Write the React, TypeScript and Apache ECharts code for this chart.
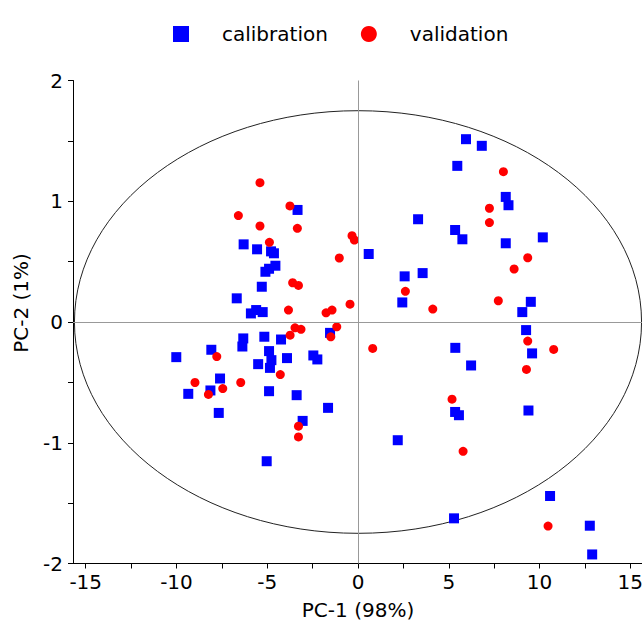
import React, { useEffect, useRef } from "react";
import * as echarts from "echarts";

const calibration: [number, number][] = [
  [-3.33, 0.928], [-6.30, 0.643], [-5.56, 0.602], [-4.79, 0.585], [-4.63, 0.569],
  [-4.55, 0.466], [-4.90, 0.441], [-5.10, 0.416], [-5.30, 0.292], [-6.68, 0.196],
  [-5.61, 0.099], [-5.90, 0.071], [-5.25, 0.082], [-1.54, -0.09], [-6.32, -0.136],
  [-6.37, -0.203], [-5.16, -0.122], [-4.24, -0.145], [-8.08, -0.23], [-4.90, -0.241],
  [-4.77, -0.316], [-5.50, -0.349], [-4.85, -0.38], [-3.91, -0.299], [-2.46, -0.277],
  [-2.24, -0.31], [-7.60, -0.468], [-8.13, -0.567], [-4.90, -0.573], [-3.38, -0.606],
  [-1.65, -0.711], [-7.67, -0.753], [-3.05, -0.819], [-5.03, -1.153], [-10.01, -0.291],
  [-9.35, -0.595], [5.95, 1.514], [6.82, 1.459], [5.47, 1.293], [3.31, 0.851],
  [5.35, 0.762], [5.75, 0.685], [0.59, 0.563], [2.57, 0.378], [3.56, 0.405],
  [2.44, 0.162], [8.14, 1.036], [8.29, 0.967], [8.14, 0.652], [10.18, 0.701],
  [9.52, 0.167], [9.05, 0.082], [5.36, -0.214], [6.23, -0.36], [5.35, -0.745],
  [5.56, -0.772], [2.19, -0.979], [9.26, -0.067], [9.59, -0.26], [9.39, -0.733],
  [10.58, -1.441], [12.77, -1.687], [12.90, -1.925], [5.29, -1.626],
];

const validation: [number, number][] = [
  [-5.40, 1.154], [-3.75, 0.961], [-6.59, 0.881], [-5.40, 0.795], [-3.34, 0.776],
  [-0.33, 0.715], [-0.20, 0.679], [-4.88, 0.66], [-1.03, 0.53], [-3.60, 0.325],
  [-3.28, 0.303], [-3.83, 0.099], [-1.76, 0.076], [-1.43, 0.099], [-0.44, 0.148],
  [-3.47, -0.048], [-3.14, -0.061], [-3.74, -0.109], [-1.17, -0.04], [-1.50, -0.123],
  [-7.78, -0.286], [-4.28, -0.435], [-6.46, -0.501], [-7.45, -0.551], [-8.24, -0.60],
  [-3.28, -0.863], [-3.28, -0.952], [-8.98, -0.501], [8.01, 1.245], [7.24, 0.942],
  [7.24, 0.823], [2.61, 0.254], [4.12, 0.107], [7.73, 0.176], [9.35, 0.532],
  [8.60, 0.439], [0.81, -0.219], [5.18, -0.639], [5.79, -1.071], [9.35, -0.158],
  [10.78, -0.227], [9.28, -0.393], [10.47, -1.69],
];

const xTickValues = [-15, -12.5, -10, -7.5, -5, -2.5, 0, 2.5, 5, 7.5, 10, 12.5, 15];
const xLabelValues = [-15, -10, -5, 0, 5, 10, 15];
const yTickValues = [-2, -1.5, -1, -0.5, 0, 0.5, 1, 1.5, 2];
const yLabelValues = [-2, -1, 0, 1, 2];

const ellipseCenter: [number, number][] = [[0, 0]];
const ellipseRadii: [number, number] = [15.62, 1.75];

const FONT = "DejaVu Sans";

export default function App() {
  const ref = useRef<HTMLDivElement>(null);
  useEffect(() => {
    document.body.style.margin = "0";
    if (!ref.current) return;
    const chart = echarts.init(ref.current, null, { renderer: "svg" });
    const textBase = { fontFamily: FONT, fontSize: 20, color: "#000" };
    chart.setOption({
      animation: false,
      backgroundColor: "#fff",
      legend: {
        data: ["calibration", "validation"],
        left: 168,
        top: 19,
        itemWidth: 16,
        itemHeight: 16,
        itemGap: 33,
        textStyle: { ...textBase, padding: [0, 0, 0, 28] },
      },
      grid: {
        left: 73,
        top: 80.5,
        width: 570,
        height: 483,
        containLabel: false,
        outerBoundsMode: "none",
      },
      xAxis: {
        type: "value",
        min: -15.7,
        max: 15.7,
        splitLine: { show: false },
        axisLine: { onZero: false, lineStyle: { color: "#000", width: 1 } },
        axisTick: { show: true, customValues: xTickValues, length: 5, lineStyle: { color: "#000" } },
        minorTick: { show: false },
        axisLabel: { customValues: xLabelValues, margin: 8, ...textBase },
        name: "PC-1 (98%)",
        nameLocation: "middle",
        nameGap: 36,
        nameTextStyle: { ...textBase },
      },
      yAxis: {
        type: "value",
        min: -2,
        max: 2,
        splitLine: { show: false },
        axisLine: { onZero: false, lineStyle: { color: "#000", width: 1 } },
        axisTick: { show: true, customValues: yTickValues, length: 5, lineStyle: { color: "#000" } },
        minorTick: { show: false },
        axisLabel: { customValues: yLabelValues, margin: 10, ...textBase },
        name: "PC-2 (1%)",
        nameLocation: "middle",
        nameGap: 42,
        nameTextStyle: { ...textBase, padding: [0, 0, 0, 38] },
      },
      series: [
        {
          type: "custom",
          name: "ellipse",
          data: ellipseCenter,
          silent: true,
          z: 1,
          renderItem: (params: any, api: any) => {
            const c = api.coord([api.value(0), api.value(1)]);
            const s = api.size(ellipseRadii);
            return {
              type: "ellipse",
              shape: { cx: c[0], cy: c[1], rx: s[0], ry: s[1] },
              style: { fill: "none", stroke: "#222", lineWidth: 1 },
              silent: true,
            };
          },
          markLine: {
            silent: true,
            symbol: "none",
            label: { show: false },
            lineStyle: { color: "#999", width: 1, type: "solid" },
            data: [{ xAxis: 0 }, { yAxis: 0 }],
          },
        },
        {
          type: "scatter",
          name: "calibration",
          data: calibration,
          symbol: "rect",
          symbolSize: 10,
          itemStyle: { color: "#0000ff", opacity: 1 },
          z: 3,
        },
        {
          type: "scatter",
          name: "validation",
          data: validation,
          symbol: "circle",
          symbolSize: 9,
          itemStyle: { color: "#ff0000", opacity: 1 },
          z: 4,
        },
      ],
    });
    return () => chart.dispose();
  }, []);
  return <div ref={ref} style={{ width: 642, height: 621 }} />;
}
